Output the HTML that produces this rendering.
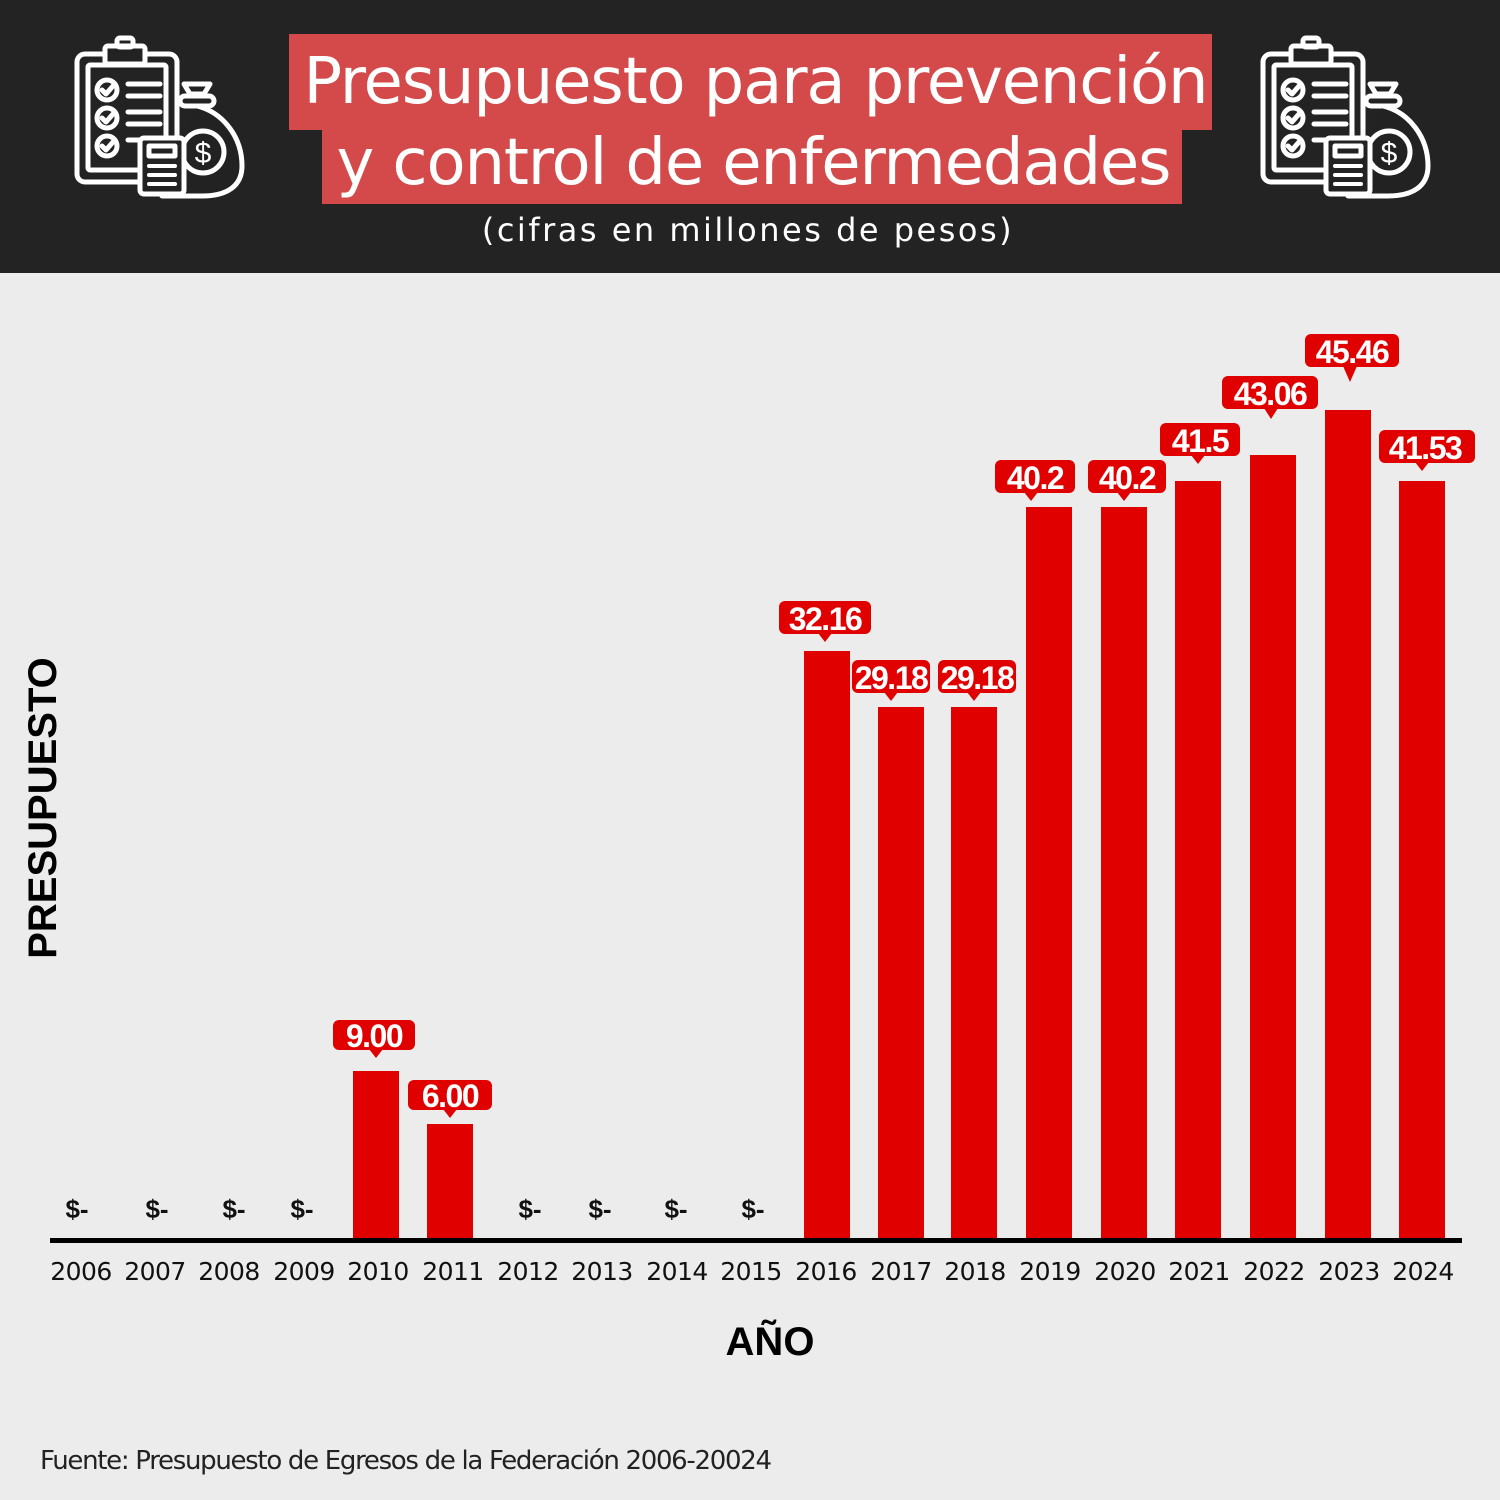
<!DOCTYPE html>
<html><head><meta charset="utf-8"><style>
body{margin:0;width:1500px;height:1500px;overflow:hidden;background:#ececec}
svg{display:block}
</style></head><body>
<svg width="1500" height="1500" viewBox="0 0 1500 1500" xmlns="http://www.w3.org/2000/svg">
<defs>
<g id="ic" fill="none" stroke="#fff" stroke-width="5" stroke-linecap="round" stroke-linejoin="round">
<rect x="17" y="22" width="100" height="128" rx="8"/>
<rect x="28" y="33" width="78" height="105" rx="2"/>
<rect x="45" y="14" width="40" height="18" rx="3" fill="#222"/>
<rect x="57" y="6" width="16" height="9" rx="3"/>
<circle cx="47" cy="58" r="10"/><path d="M42 58l4 4 7-8"/>
<circle cx="47" cy="86" r="10"/><path d="M42 86l4 4 7-8"/>
<circle cx="47" cy="114" r="10"/><path d="M42 114l4 4 7-8"/>
<path d="M68 52h32M68 64h32M68 80h32M68 92h32M68 108h12"/>
<path d="M130 62l-6-10h26l-6 10z" fill="#222"/>
<rect x="120" y="64" width="34" height="10" rx="5" fill="#222"/>
<path d="M137 74c25 6 45 30 45 60 0 20-15 30-40 30h-40" fill="#222"/>
<circle cx="143" cy="120" r="21" fill="#222"/>
<text x="143" y="131" font-family="Liberation Sans" font-size="30" fill="#fff" stroke="none" text-anchor="middle">$</text>
<rect x="80" y="106" width="44" height="56" rx="4" fill="#222"/>
<rect x="89" y="114" width="26" height="10"/>
<path d="M89 134h26M89 143h26M89 152h26" stroke-width="4"/>
</g>
</defs>
<rect x="0" y="0" width="1500" height="273" fill="#232323"/>
<use href="#ic" x="60" y="32"/>
<use href="#ic" x="1246" y="32"/>
<rect x="289" y="34" width="923" height="96" fill="#d44a4a"/>
<rect x="322" y="129" width="860" height="75" fill="#d44a4a"/>
<g font-family="'DejaVu Sans','Liberation Sans',sans-serif" fill="#fff" text-anchor="middle">
<text x="756" y="103" font-size="64" textLength="905">Presupuesto para prevención</text>
<text x="754" y="184" font-size="64" textLength="835">y control de enfermedades</text>
<text x="748" y="241" font-size="32" letter-spacing="2.5">(cifras en millones de pesos)</text>
</g>
<g fill="#e00000">
<rect x="353" y="1071" width="46" height="169"/>
<rect x="427" y="1124" width="46" height="116"/>
<rect x="804" y="651" width="46" height="589"/>
<rect x="878" y="707" width="46" height="533"/>
<rect x="951" y="707" width="46" height="533"/>
<rect x="1026" y="507" width="46" height="733"/>
<rect x="1101" y="507" width="46" height="733"/>
<rect x="1175" y="481" width="46" height="759"/>
<rect x="1250" y="455" width="46" height="785"/>
<rect x="1325" y="410" width="46" height="830"/>
<rect x="1399" y="481" width="46" height="759"/>
</g>
<rect x="50" y="1238" width="1412" height="5" fill="#000"/>
<g font-family="'Liberation Sans',sans-serif" font-weight="bold" font-size="32" text-anchor="middle" letter-spacing="-1.5">
<g fill="#e00000">
<rect x="333" y="1020" width="82" height="30" rx="6"/><path d="M369 1049l7 9 7-9z"/>
<rect x="408" y="1080" width="84" height="30" rx="6"/><path d="M443 1109l7 9 7-9z"/>
<rect x="779" y="601" width="92" height="33" rx="6"/><path d="M818 633l7 9 7-9z"/>
<rect x="852" y="660" width="78" height="33" rx="6"/><path d="M884 692l7 9 7-9z"/>
<rect x="938" y="660" width="78" height="33" rx="6"/><path d="M967 692l7 9 7-9z"/>
<rect x="995" y="460" width="80" height="33" rx="6"/><path d="M1024 492l7 9 7-9z"/>
<rect x="1088" y="460" width="78" height="33" rx="6"/><path d="M1117 492l7 9 7-9z"/>
<rect x="1160" y="423" width="80" height="33" rx="6"/><path d="M1191 455l7 9 7-9z"/>
<rect x="1222" y="376" width="96" height="33" rx="6"/><path d="M1264 408l7 11 7-11z"/>
<rect x="1305" y="334" width="94" height="33" rx="6"/><path d="M1343 366l7 16 7-16z"/>
<rect x="1379" y="430" width="96" height="33" rx="6"/><path d="M1415 462l7 9 7-9z"/>
</g>
<g fill="#fff">
<text x="374" y="1047">9.00</text>
<text x="450" y="1107">6.00</text>
<text x="825" y="630">32.16</text>
<text x="891" y="689">29.18</text>
<text x="977" y="689">29.18</text>
<text x="1035" y="489">40.2</text>
<text x="1127" y="489">40.2</text>
<text x="1200" y="452">41.5</text>
<text x="1270" y="405">43.06</text>
<text x="1352" y="363">45.46</text>
<text x="1425" y="459">41.53</text>
</g>
<g fill="#111" font-size="26" letter-spacing="0">
<text x="77" y="1218">$-</text><text x="157" y="1218">$-</text><text x="234" y="1218">$-</text><text x="302" y="1218">$-</text>
<text x="530" y="1218">$-</text><text x="600" y="1218">$-</text><text x="676" y="1218">$-</text><text x="753" y="1218">$-</text>
</g>
</g>
<g font-family="'DejaVu Sans','Liberation Sans',sans-serif" font-size="25" fill="#111" text-anchor="middle" letter-spacing="-0.5">
<text x="81" y="1280">2006</text><text x="155" y="1280">2007</text><text x="229" y="1280">2008</text><text x="304" y="1280">2009</text>
<text x="378" y="1280">2010</text><text x="453" y="1280">2011</text><text x="528" y="1280">2012</text><text x="602" y="1280">2013</text>
<text x="677" y="1280">2014</text><text x="751" y="1280">2015</text><text x="826" y="1280">2016</text><text x="901" y="1280">2017</text>
<text x="975" y="1280">2018</text><text x="1050" y="1280">2019</text><text x="1125" y="1280">2020</text><text x="1199" y="1280">2021</text>
<text x="1274" y="1280">2022</text><text x="1349" y="1280">2023</text><text x="1423" y="1280">2024</text>
</g>
<text x="770" y="1355" font-family="'Liberation Sans',sans-serif" font-weight="bold" font-size="40" text-anchor="middle" fill="#000">AÑO</text>
<text transform="translate(56,808) rotate(-90)" font-family="'Liberation Sans',sans-serif" font-weight="bold" font-size="40" text-anchor="middle" fill="#000">PRESUPUESTO</text>
<text x="40" y="1469" font-family="'DejaVu Sans','Liberation Sans',sans-serif" font-size="26" fill="#222" textLength="732">Fuente:  Presupuesto de Egresos de la Federación 2006-20024</text>
</svg>
</body></html>
